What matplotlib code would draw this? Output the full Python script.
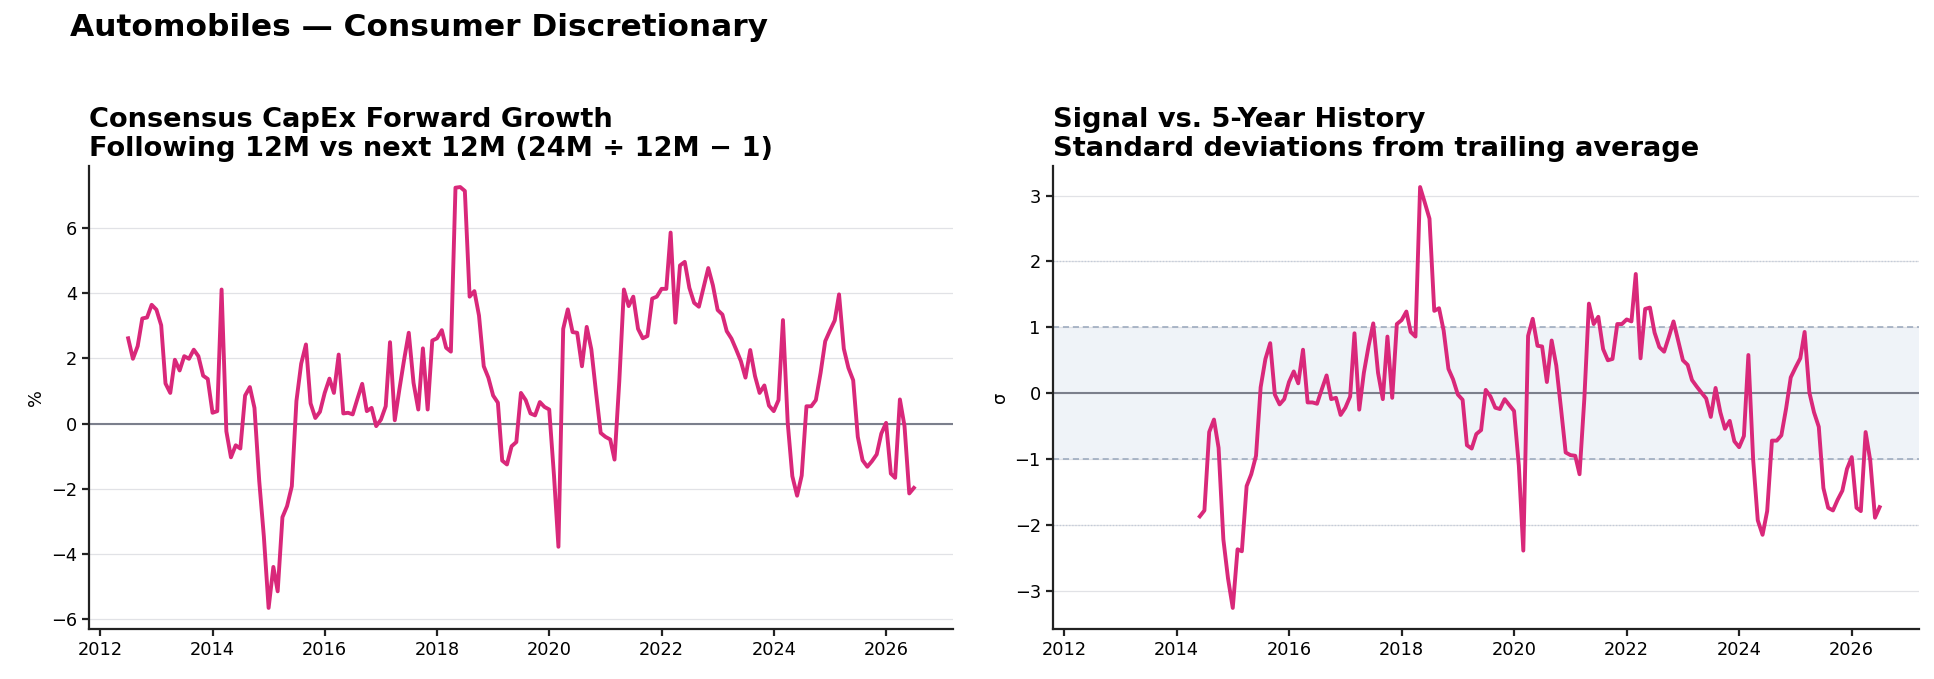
import numpy as np
import pandas as pd
import matplotlib
matplotlib.use("Agg")
import matplotlib.pyplot as plt

# ---------------- data (monthly, Jul-2012 .. Jul-2026) ----------------
start_month = "2012-07-01"
capex_growth = [
    2.62, 1.99, 2.38, 3.23, 3.26, 3.65, 3.50, 3.02, 1.23, 0.94,
    1.96, 1.63, 2.07, 1.99, 2.27, 2.07, 1.47, 1.37, 0.33, 0.38,
    4.12, -0.24, -1.04, -0.67, -0.77, 0.86, 1.12, 0.48, -1.77, -3.47,
    -5.67, -4.41, -5.16, -2.88, -2.54, -1.93, 0.69, 1.84, 2.43, 0.62,
    0.17, 0.36, 0.94, 1.38, 0.94, 2.12, 0.31, 0.33, 0.28, 0.76,
    1.22, 0.38, 0.48, -0.08, 0.12, 0.53, 2.50, 0.10, 1.05, 1.97,
    2.79, 1.25, 0.43, 2.31, 0.43, 2.55, 2.62, 2.87, 2.33, 2.21,
    7.25, 7.27, 7.15, 3.90, 4.07, 3.32, 1.76, 1.41, 0.86, 0.64,
    -1.14, -1.26, -0.70, -0.57, 0.94, 0.72, 0.31, 0.25, 0.66, 0.51,
    0.43, -1.60, -3.79, 2.91, 3.51, 2.81, 2.79, 1.76, 2.97, 2.28,
    0.94, -0.29, -0.41, -0.49, -1.11, 1.30, 4.12, 3.61, 3.90, 2.91,
    2.62, 2.69, 3.84, 3.90, 4.14, 4.14, 5.87, 3.10, 4.86, 4.97,
    4.17, 3.71, 3.59, 4.17, 4.78, 4.25, 3.49, 3.35, 2.84, 2.61,
    2.28, 1.92, 1.41, 2.26, 1.46, 0.94, 1.17, 0.55, 0.38, 0.72,
    3.18, 0.02, -1.62, -2.22, -1.60, 0.53, 0.53, 0.72, 1.56, 2.53,
    2.86, 3.17, 3.97, 2.30, 1.71, 1.33, -0.41, -1.13, -1.33, -1.16,
    -0.95, -0.31, 0.02, -1.54, -1.67, 0.74, -0.08, -2.15, -1.98,
]
# z-score readings start Jun-2014 (first 23 months have no value)
zscore_start = "2014-06-01"
zscore = [
    -1.87, -1.78, -0.59, -0.40, -0.83, -2.22, -2.81, -3.26, -2.37, -2.40,
    -1.41, -1.23, -0.95, 0.09, 0.52, 0.76, -0.02, -0.17, -0.09, 0.17,
    0.33, 0.15, 0.66, -0.14, -0.14, -0.16, 0.06, 0.27, -0.09, -0.07,
    -0.33, -0.22, -0.05, 0.91, -0.25, 0.31, 0.72, 1.06, 0.31, -0.09,
    0.86, -0.07, 1.05, 1.11, 1.24, 0.93, 0.86, 3.13, 2.89, 2.65,
    1.25, 1.29, 0.95, 0.37, 0.21, -0.02, -0.10, -0.79, -0.84, -0.62,
    -0.56, 0.05, -0.05, -0.22, -0.24, -0.09, -0.18, -0.27, -1.10, -2.39,
    0.87, 1.13, 0.72, 0.71, 0.17, 0.80, 0.42, -0.24, -0.90, -0.94,
    -0.95, -1.23, -0.09, 1.36, 1.05, 1.16, 0.67, 0.50, 0.52, 1.05,
    1.05, 1.12, 1.09, 1.81, 0.53, 1.28, 1.30, 0.92, 0.70, 0.63,
    0.85, 1.09, 0.80, 0.50, 0.43, 0.20, 0.10, 0.01, -0.08, -0.36,
    0.08, -0.29, -0.54, -0.42, -0.73, -0.82, -0.65, 0.58, -1.01, -1.93,
    -2.15, -1.79, -0.72, -0.72, -0.64, -0.23, 0.24, 0.39, 0.53, 0.93,
    0.01, -0.29, -0.51, -1.44, -1.74, -1.78, -1.62, -1.48, -1.15, -0.97,
    -1.74, -1.79, -0.59, -1.02, -1.89, -1.73,
]

suptitle = "Automobiles \u2014 Consumer Discretionary"
left_title = "Consensus CapEx Forward Growth\nFollowing 12M vs next 12M (24M \u00f7 12M \u2212 1)"
right_title = "Signal vs. 5-Year History\nStandard deviations from trailing average"
left_ylabel = "%"
right_ylabel = "\u03c3"

dates_l = pd.date_range(start_month, periods=len(capex_growth), freq="MS")
dates_r = pd.date_range(zscore_start, periods=len(zscore), freq="MS")

LINE = "#d9287a"
ZERO = "#7b7f8c"
GRID = "#e1e2e6"
BAND = "#eff3f8"
BANDLINE = "#97a6bb"

plt.rcParams["font.family"] = "DejaVu Sans"
fig = plt.figure(figsize=(19.34, 6.79), dpi=100)
ax1 = fig.add_axes([0.046, 0.0737, 0.4468, 0.6818])
ax2 = fig.add_axes([0.5443, 0.0737, 0.4479, 0.6818], sharex=ax1)

for ax in (ax1, ax2):
    ax.spines["top"].set_visible(False)
    ax.spines["right"].set_visible(False)
    for s in ("left", "bottom"):
        ax.spines[s].set_linewidth(1.6)
        ax.spines[s].set_color("#222222")
    ax.tick_params(axis="both", labelsize=12.8, width=1.6, length=5, color="#222222")
    ax.yaxis.grid(True, color=GRID, linewidth=0.9)
    ax.set_axisbelow(True)

# left panel
ax1.axhline(0, color=ZERO, linewidth=1.5, zorder=2)
ax1.plot(dates_l, capex_growth, color=LINE, linewidth=2.8, zorder=3)
ax1.set_ylabel(left_ylabel, fontsize=12.8)
ax1.set_title(left_title, loc="left", fontsize=19.6, fontweight="bold", pad=7, linespacing=1.18)

# right panel
ax2.axhspan(-1, 1, color=BAND, zorder=0, linewidth=0)
ax2.axhline(1, color=BANDLINE, linestyle=(0, (4, 2.5)), linewidth=1.1, zorder=1)
ax2.axhline(-1, color=BANDLINE, linestyle=(0, (4, 2.5)), linewidth=1.1, zorder=1)
ax2.axhline(2, color="#c3cbd8", linestyle=(0, (1, 1.5)), linewidth=0.9, zorder=1)
ax2.axhline(-2, color="#c3cbd8", linestyle=(0, (1, 1.5)), linewidth=0.9, zorder=1)
ax2.axhline(0, color=ZERO, linewidth=1.5, zorder=2)
ax2.plot(dates_r, zscore, color=LINE, linewidth=2.8, zorder=3)
ax2.set_ylabel(right_ylabel, fontsize=12.8)
ax2.set_title(right_title, loc="left", fontsize=19.6, fontweight="bold", pad=7, linespacing=1.18)

ax1.set_xlim(dates_l[0] - pd.Timedelta(days=255), dates_l[-1] + pd.Timedelta(days=255))
ax2.tick_params(labelleft=True)

fig.text(0.0364, 0.96, suptitle, fontsize=22.5, fontweight="bold", ha="left", va="center")

fig.savefig("out.png", dpi=100)
